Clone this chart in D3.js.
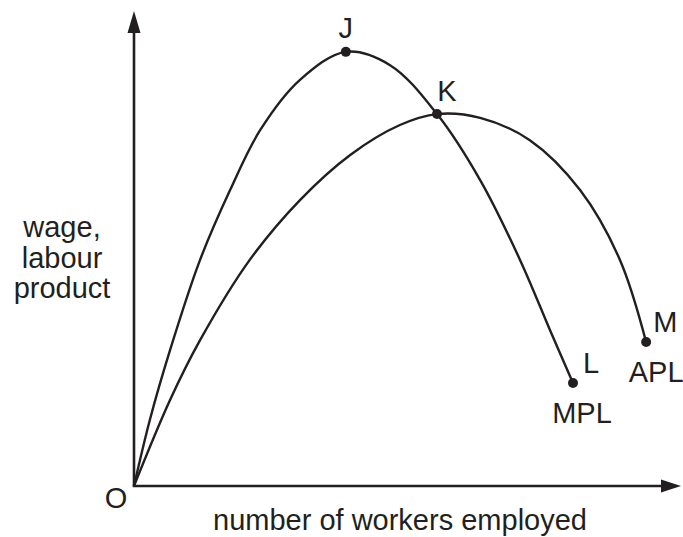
<!DOCTYPE html>
<html><head><meta charset="utf-8">
<script src="https://cdn.jsdelivr.net/npm/d3@7"></script>
<style>body{margin:0;background:#fff}svg{display:block}text{font-family:"Liberation Sans",Arial,Helvetica,sans-serif;fill:#231f20}</style>
</head><body>
<svg id="c" width="683" height="537"></svg>
<script>
// Data (abstract units: x 0-100 workers, y 0-100 wage/product)
const mplX = [0, 2.9, 6.6, 12.1, 17.6, 23.1, 30.4, 38.8, 46.9, 55.5, 63.4, 70.7, 76.2, 80.4];
const mplY = [0, 13.9, 28.6, 47.6, 62.3, 74.9, 85.5, 91.4, 88.6, 78.3, 64.4, 47.6, 32.8, 21.7];
const aplX = [0, 6.6, 12.1, 21.2, 30.4, 39.6, 48.7, 55.5, 63.4, 72.5, 81.7, 89.0, 93.8];
const aplY = [0, 18.1, 30.7, 47.6, 60.2, 69.7, 76.0, 78.3, 77.5, 72.8, 62.3, 47.6, 30.3];
const pointNames = ["J", "K", "L", "M"];
const pointX = [38.8, 55.5, 80.4, 93.8];
const pointY = [91.4, 78.3, 21.7, 30.3];
const curveNames = ["MPL", "APL"];
const yLabelLines = ["wage,", "labour", "product"];
const xLabel = "number of workers employed";
const originLabel = "O";

const svg = d3.select("#c");
const x = d3.scaleLinear().domain([0, 100]).range([134, 680]);
const y = d3.scaleLinear().domain([0, 100]).range([486, 11]);
const ink = "#231f20";

// axes
svg.append("line").attr("x1", x(0)).attr("y1", y(0)).attr("x2", x(0)).attr("y2", y(100) + 18)
  .attr("stroke", ink).attr("stroke-width", 2.6);
svg.append("line").attr("x1", x(0) - 1.3).attr("y1", y(0)).attr("x2", x(100) - 16).attr("y2", y(0))
  .attr("stroke", ink).attr("stroke-width", 2.6);
// arrowheads
svg.append("path").attr("d", `M${x(0)},${y(100)} L${x(0)-6.5},${y(100)+22} L${x(0)+6.5},${y(100)+22} Z`).attr("fill", ink);
svg.append("path").attr("d", `M${x(100)+1},${y(0)} L${x(100)-19},${y(0)-6.5} L${x(100)-19},${y(0)+6.5} Z`).attr("fill", ink);

const line = d3.line().x(d => x(d[0])).y(d => y(d[1])).curve(d3.curveCatmullRom.alpha(0.5));
svg.append("path").datum(mplX.map((v, i) => [v, mplY[i]])).attr("d", line)
  .attr("fill", "none").attr("stroke", ink).attr("stroke-width", 2.4);
svg.append("path").datum(aplX.map((v, i) => [v, aplY[i]])).attr("d", line)
  .attr("fill", "none").attr("stroke", ink).attr("stroke-width", 2.4);

// points
svg.selectAll("circle.pt").data(pointX).enter().append("circle")
  .attr("cx", d => x(d)).attr("cy", (d, i) => y(pointY[i])).attr("r", 5).attr("fill", ink);

const fs = 29;
// point labels: offsets in pixels
const labOff = [[0, -14, "middle"], [10, -13, "middle"], [10, -10, "start"], [7, -10, "start"]];
pointNames.forEach((n, i) => {
  svg.append("text").attr("x", x(pointX[i]) + labOff[i][0]).attr("y", y(pointY[i]) + labOff[i][1])
    .attr("text-anchor", labOff[i][2]).attr("font-size", fs).text(n);
});
// curve labels
svg.append("text").attr("x", x(pointX[2]) + 9).attr("y", y(pointY[2]) + 40).attr("text-anchor", "middle").attr("font-size", fs).text(curveNames[0]);
svg.append("text").attr("x", x(pointX[3]) + 10).attr("y", y(pointY[3]) + 40).attr("text-anchor", "middle").attr("font-size", fs).text(curveNames[1]);

// axis labels
svg.append("text").attr("x", 116).attr("y", 508).attr("text-anchor", "middle").attr("font-size", fs).text(originLabel);
svg.append("text").attr("x", 400).attr("y", 530).attr("text-anchor", "middle").attr("font-size", fs).text(xLabel);
yLabelLines.forEach((t, i) => {
  svg.append("text").attr("x", 62).attr("y", 237 + i * 30.5).attr("text-anchor", "middle").attr("font-size", fs).text(t);
});
</script>
</body></html>
